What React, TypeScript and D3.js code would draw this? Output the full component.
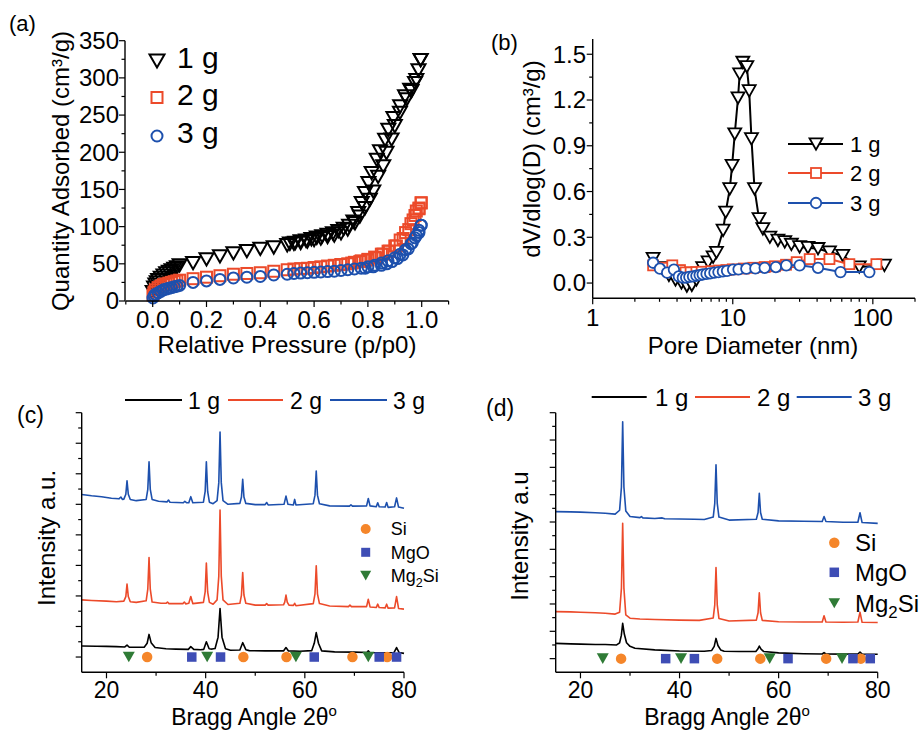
import React from 'react';
import * as d3 from 'd3';

const FONT = 'Arial, "Liberation Sans", Helvetica, sans-serif';
const BLACK = '#000000';
const RED = '#ec4a2a';
const BLUE = '#1d50ad';
const ORANGE = '#f5862a';
const SQ_BLUE = '#3e4db5';
const GREEN = '#2f7b36';

// ---------------- Panel (a): N2 isotherms ----------------
const seriesNames = ['1 g', '2 g', '3 g'];

const bet1gAds: [number, number][] = [
  [0.0, 12], [0.005, 18], [0.01, 22], [0.015, 25], [0.02, 28], [0.03, 31], [0.04, 34], [0.05, 37],
  [0.06, 39], [0.07, 41], [0.08, 43], [0.09, 45], [0.1, 48], [0.15, 51], [0.2, 56], [0.25, 60],
  [0.3, 64], [0.35, 67], [0.4, 70], [0.45, 72], [0.5, 75], [0.525, 77], [0.55, 78], [0.575, 80],
  [0.6, 82], [0.625, 84], [0.65, 86], [0.675, 88], [0.7, 91], [0.725, 96], [0.752, 104.6],
  [0.77, 113.5], [0.789, 124.7], [0.807, 136], [0.82, 147], [0.838, 167], [0.857, 181],
  [0.869, 199], [0.888, 217], [0.9, 235], [0.919, 253], [0.944, 271], [0.962, 282], [0.98, 297],
  [0.996, 324],
];
const bet1gDes: [number, number][] = [
  [0.996, 324], [0.988, 310], [0.975, 293], [0.957, 284], [0.938, 275], [0.92, 261.5],
  [0.895, 245.8], [0.876, 230], [0.864, 216.7], [0.845, 201], [0.833, 189.8], [0.814, 171.9],
  [0.802, 158.4], [0.789, 145], [0.777, 131.7], [0.764, 118], [0.746, 106.8], [0.73, 101],
  [0.71, 97], [0.69, 94], [0.67, 91], [0.65, 89], [0.63, 87], [0.61, 85], [0.59, 83], [0.57, 81],
  [0.55, 80], [0.53, 78], [0.51, 77],
];
const bet2gAds: [number, number][] = [
  [0.001, 8], [0.005, 12], [0.01, 15], [0.02, 18], [0.03, 20], [0.04, 22], [0.05, 23], [0.06, 24],
  [0.07, 25], [0.08, 26], [0.09, 27], [0.1, 28], [0.15, 30], [0.2, 32], [0.25, 34], [0.3, 36],
  [0.35, 37], [0.4, 38], [0.45, 40], [0.5, 42], [0.525, 43], [0.55, 43.5], [0.575, 44], [0.6, 45],
  [0.625, 46], [0.65, 47], [0.675, 48], [0.7, 49], [0.725, 50], [0.75, 52], [0.775, 54], [0.8, 56],
  [0.825, 59], [0.85, 63], [0.875, 67], [0.9, 74], [0.92, 82], [0.94, 92], [0.96, 104],
  [0.975, 115], [0.99, 124], [0.998, 132],
];
const bet2gDes: [number, number][] = [
  [0.998, 132], [0.99, 125], [0.98, 121], [0.968, 109], [0.952, 96], [0.931, 84], [0.906, 74],
  [0.88, 67], [0.856, 63], [0.832, 58], [0.8, 55], [0.77, 53], [0.74, 51], [0.7, 49],
];
const bet3gAds: [number, number][] = [
  [0.001, 4], [0.005, 7], [0.01, 9], [0.02, 11], [0.03, 13], [0.04, 15], [0.05, 16], [0.06, 17],
  [0.07, 18], [0.08, 19], [0.09, 20], [0.1, 21], [0.15, 25], [0.2, 27], [0.25, 29], [0.3, 31],
  [0.35, 32], [0.4, 33], [0.45, 35], [0.5, 36], [0.525, 37], [0.55, 37.5], [0.575, 38], [0.6, 38.5],
  [0.625, 39], [0.65, 39.5], [0.675, 40], [0.7, 41], [0.725, 42], [0.75, 43], [0.775, 44], [0.8, 46],
  [0.825, 48], [0.85, 51], [0.875, 54], [0.9, 58], [0.92, 63], [0.94, 69], [0.96, 77],
  [0.975, 85], [0.99, 92], [0.998, 102],
];
const bet3gDes: [number, number][] = [
  [0.998, 102], [0.99, 95], [0.98, 88], [0.965, 78], [0.95, 70], [0.93, 62], [0.91, 57],
  [0.89, 53], [0.87, 50], [0.85, 48], [0.82, 46], [0.79, 44],
];
const aYTicks = [0, 50, 100, 150, 200, 250, 300, 350];
const aYMinor = [25, 75, 125, 175, 225, 275, 325];
const aXTicks = [0, 0.2, 0.4, 0.6, 0.8, 1.0];
const aXLabels = ['0.0', '0.2', '0.4', '0.6', '0.8', '1.0'];
const aXMinor = [-0.1, 0.1, 0.3, 0.5, 0.7, 0.9, 1.1];

// ---------------- Panel (b): pore size distribution ----------------
const psd1g: [number, number][] = [
  [2.7, 0.16], [3.1, 0.1], [3.5, 0.05], [3.9, 0.02], [4.3, 0.0], [4.7, -0.02], [5.1, -0.015],
  [5.5, 0.02], [6.1, 0.1], [6.67, 0.137], [7.24, 0.17], [7.65, 0.2], [8.53, 0.345], [8.9, 0.464],
  [9.52, 0.617], [9.89, 0.77], [10.33, 0.977], [10.9, 1.213], [11.2, 1.37], [11.8, 1.446],
  [12.6, 1.418], [13.1, 1.26], [13.6, 0.945], [14.3, 0.617], [15.4, 0.421], [16.4, 0.355],
  [18.4, 0.3], [21, 0.28], [23.5, 0.27], [26.2, 0.253], [30, 0.237], [34.4, 0.232], [40.6, 0.225],
  [49, 0.203], [61, 0.18], [80, 0.105], [121, 0.116],
];
const psd2g: [number, number][] = [
  [2.7, 0.116], [3.2, 0.1], [3.7, 0.116], [4.2, 0.085], [4.6, 0.07], [5.0, 0.07], [5.5, 0.072],
  [6, 0.074], [7, 0.078], [8, 0.082], [9, 0.085], [10, 0.09], [12, 0.095], [14, 0.1], [16.9, 0.105],
  [20, 0.11], [24, 0.12], [28.6, 0.137], [35.4, 0.157], [49, 0.157], [68, 0.124], [106, 0.124],
];
const psd3g: [number, number][] = [
  [2.7, 0.133], [3.02, 0.094], [3.4, 0.068], [3.8, 0.088], [4.12, 0.044], [4.4, 0.035],
  [4.65, 0.036], [4.9, 0.04], [5.2, 0.044], [5.5, 0.048], [5.8, 0.052], [6.1, 0.056], [6.5, 0.06],
  [6.9, 0.064], [7.4, 0.068], [7.9, 0.072], [8.5, 0.076], [9.1, 0.08], [10.05, 0.088], [11, 0.09],
  [12.5, 0.094], [14.5, 0.096], [16.9, 0.1], [20.3, 0.105], [24.1, 0.116], [30, 0.116],
  [40.6, 0.1], [58.8, 0.072], [94.4, 0.072],
];
const bYTicks = [0, 0.3, 0.6, 0.9, 1.2, 1.5];
const bYLabels = ['0.0', '0.3', '0.6', '0.9', '1.2', '1.5'];
const bYMinor = [0.15, 0.45, 0.75, 1.05, 1.35];
const bXTicks = [1, 10, 100];
const bXLabels = ['1', '10', '100'];
const bXMinor = [2, 3, 4, 5, 6, 7, 8, 9, 20, 30, 40, 50, 60, 70, 80, 90, 200];

// ---------------- Panel (c): XRD ----------------
const xrdC1g: [number, number][] = [
  [15, 0.86], [18, 0.855], [20, 0.85], [22, 0.84], [23.7, 0.83], [24.14, 0.89], [24.6, 0.82],
  [26, 0.82], [27.6, 0.82], [28.2, 0.95], [28.58, 1.24], [29.0, 0.97], [29.8, 0.81], [32, 0.77],
  [34, 0.76], [36.5, 0.75], [37.0, 0.84], [37.6, 0.75], [39.0, 0.74], [39.6, 0.75], [40.14, 1.0],
  [40.7, 0.77], [41.3, 0.76], [41.9, 0.78], [42.5, 1.15], [42.9, 2.09], [43.3, 1.15], [44.0, 0.77],
  [45, 0.72], [46.9, 0.73], [47.47, 0.97], [48.1, 0.74], [48.8, 0.71], [52, 0.7], [55.7, 0.7],
  [56.2, 0.81], [56.7, 0.7], [59, 0.69], [61.4, 0.71], [61.9, 0.95], [62.3, 1.3], [62.75, 0.95],
  [63.4, 0.7], [66, 0.67], [70, 0.66], [72.5, 0.65], [72.8, 0.7], [73.1, 0.65], [75, 0.64],
  [78.0, 0.65], [78.5, 0.81], [79.0, 0.65], [80, 0.62],
];
const xrdC2g: [number, number][] = [
  [15, 2.37], [17, 2.35], [20, 2.33], [22, 2.31], [23.5, 2.33], [23.9, 2.48], [24.14, 2.89],
  [24.4, 2.48], [24.8, 2.31], [26, 2.29], [28.0, 2.34], [28.33, 2.72], [28.58, 3.76], [28.83, 2.72],
  [29.2, 2.3], [31, 2.26], [32.0, 2.26], [32.3, 2.3], [32.6, 2.25], [35.4, 2.25], [35.7, 2.3],
  [36.0, 2.24], [36.6, 2.26], [37.0, 2.48], [37.4, 2.25], [39.55, 2.29], [39.9, 2.63],
  [40.14, 3.58], [40.4, 2.63], [40.75, 2.29], [41.5, 2.23], [42.3, 2.37], [42.65, 3.15],
  [42.9, 5.31], [43.15, 3.15], [43.5, 2.37], [44.5, 2.22], [46.9, 2.26], [47.22, 2.53],
  [47.47, 3.27], [47.72, 2.53], [48.1, 2.26], [50, 2.2], [52.0, 2.2], [52.3, 2.25], [52.6, 2.2],
  [55.7, 2.21], [55.95, 2.3], [56.2, 2.53], [56.45, 2.3], [56.8, 2.2], [57.7, 2.19],
  [57.95, 2.26], [58.2, 2.18], [61.7, 2.25], [62.05, 2.57], [62.3, 3.49], [62.55, 2.57],
  [62.95, 2.25], [65, 2.17], [68.8, 2.15], [69.1, 2.2], [69.4, 2.15], [72.45, 2.15], [72.8, 2.39],
  [73.15, 2.14], [74.4, 2.12], [74.7, 2.23], [75.0, 2.12], [76.2, 2.11], [76.5, 2.23], [76.8, 2.1],
  [78.1, 2.11], [78.5, 2.48], [78.9, 2.09], [80, 2.07],
];
const xrdC3g: [number, number][] = [
  [15, 5.82], [17, 5.78], [19, 5.75], [21, 5.7], [22.5, 5.68], [22.9, 5.74], [23.2, 5.66],
  [23.5, 5.67], [23.9, 5.83], [24.14, 6.27], [24.4, 5.83], [24.8, 5.66], [26, 5.62], [28.0, 5.66],
  [28.33, 5.99], [28.58, 6.89], [28.83, 5.99], [29.2, 5.66], [30.5, 5.6], [32.2, 5.58],
  [32.5, 5.64], [32.8, 5.57], [35.5, 5.55], [35.8, 5.6], [36.2, 5.55], [36.6, 5.55], [37.0, 5.75],
  [37.4, 5.55], [39.55, 5.57], [39.9, 5.92], [40.14, 6.89], [40.4, 5.92], [40.75, 5.57],
  [41.5, 5.52], [42.3, 5.62], [42.65, 6.21], [42.9, 7.87], [43.15, 6.21], [43.5, 5.62],
  [44.5, 5.5], [46.9, 5.53], [47.22, 5.74], [47.47, 6.32], [47.72, 5.74], [48.1, 5.53],
  [50, 5.49], [52.0, 5.49], [52.3, 5.56], [52.6, 5.48], [55.8, 5.5], [56.2, 5.77], [56.6, 5.5],
  [57.7, 5.48], [57.95, 5.66], [58.2, 5.48], [61.7, 5.52], [62.05, 5.8], [62.3, 6.59],
  [62.55, 5.8], [62.95, 5.52], [65, 5.45], [69.0, 5.44], [69.3, 5.48], [69.6, 5.44],
  [72.45, 5.45], [72.8, 5.69], [73.15, 5.45], [74.4, 5.42], [74.7, 5.55], [75.0, 5.42],
  [76.2, 5.41], [76.5, 5.56], [76.8, 5.4], [78.1, 5.42], [78.5, 5.71], [78.9, 5.41], [80, 5.37],
];

// ---------------- Panel (d): XRD ----------------
const xrdD1g: [number, number][] = [
  [15, 1.06], [18, 1.04], [20, 1.03], [23, 1.02], [25, 1.02], [27.3, 1.0], [27.9, 1.08],
  [28.25, 1.35], [28.52, 1.79], [28.85, 1.4], [29.3, 1.08], [30.0, 0.95], [31, 0.88], [35, 0.82],
  [40, 0.78], [45, 0.77], [46.5, 0.8], [47.0, 0.95], [47.36, 1.24], [47.75, 0.98], [48.3, 0.82],
  [49, 0.77], [52, 0.76], [55.4, 0.76], [55.8, 0.85], [56.1, 0.96], [56.45, 0.85], [57.0, 0.76],
  [60, 0.71], [65, 0.68], [68.8, 0.67], [69.17, 0.72], [69.55, 0.67], [73, 0.665], [76.0, 0.67],
  [76.43, 0.74], [76.85, 0.67], [80, 0.66],
];
const xrdD2g: [number, number][] = [
  [15, 2.22], [18, 2.21], [20, 2.2], [23, 2.18], [25, 2.16], [27, 2.13], [27.9, 2.2], [28.27, 3.08],
  [28.52, 5.45], [28.77, 3.08], [29.15, 2.1], [30, 1.98], [32, 1.95], [35, 1.93], [40, 1.91],
  [44, 1.9], [46.8, 1.99], [47.11, 2.47], [47.36, 3.83], [47.61, 2.47], [47.95, 1.97], [50, 1.88],
  [55.5, 1.91], [55.85, 2.18], [56.1, 2.91], [56.35, 2.18], [56.7, 1.9], [60, 1.85], [65, 1.84],
  [68.8, 1.84], [69.17, 2.07], [69.55, 1.84], [73, 1.83], [76.0, 1.84], [76.43, 2.2], [76.85, 1.83],
  [80, 1.82],
];
const xrdD3g: [number, number][] = [
  [15, 5.88], [18, 5.87], [20, 5.86], [23, 5.84], [25, 5.82], [27, 5.79], [27.9, 5.93], [28.27, 6.78],
  [28.52, 9.17], [28.77, 6.78], [29.15, 5.9], [30, 5.7], [32.0, 5.66], [32.3, 5.7], [32.6, 5.65],
  [35, 5.63], [36.5, 5.65], [37, 5.62], [40, 5.61], [43, 5.6], [45, 5.59], [46.8, 5.68],
  [47.11, 6.18], [47.36, 7.59], [47.61, 6.18], [47.95, 5.68], [50, 5.57], [55.5, 5.6],
  [55.85, 5.85], [56.1, 6.55], [56.35, 5.85], [56.7, 5.6], [60, 5.54], [65, 5.525], [68.8, 5.52],
  [69.17, 5.7], [69.55, 5.52], [73, 5.49], [76.0, 5.49], [76.43, 5.84], [76.85, 5.48], [80, 5.45],
];

const phaseSi = [28.2, 47.6, 56.3, 69.6, 76.6];
const phaseMgO = [37.2, 43.0, 61.9, 75.0, 78.5];
const phaseMg2Si = [24.5, 40.3, 58.2, 72.8];
const phaseLevel = 0.5;

const xrdXTicks = [20, 40, 60, 80];
const xrdXMinor = [30, 50, 70];
const cYTicks = [0.5, 1.5, 2.5, 3.5, 4.5, 5.5, 6.5, 7.5, 8.5];
const cYMinor = [1, 2, 3, 4, 5, 6, 7, 8];
const dYTicks = [0.5, 1.5, 2.5, 3.5, 4.5, 5.5, 6.5, 7.5, 8.5, 9.5];
const dYMinor = [1, 2, 3, 4, 5, 6, 7, 8, 9];

// ---------------- Scales ----------------
const xA = d3.scaleLinear().domain([-0.1, 1.1]).range([125.8, 448.6]);
const yA = d3.scaleLinear().domain([0, 350]).range([301, 40.7]);
const xB = d3.scaleLog().domain([1, 200]).range([592.7, 915]);
const yB = d3.scaleLinear().domain([-0.1, 1.6]).range([298.3, 39]);
const xC = d3.scaleLinear().domain([15, 80]).range([81.7, 404]);
const yC = d3.scaleLinear().domain([0, 8.5]).range([672.3, 412.7]);
const xD = d3.scaleLinear().domain([15, 80]).range([555.7, 877.7]);
const yD = d3.scaleLinear().domain([0, 9.5]).range([672.3, 412.7]);

type Shape = 'tri' | 'sq' | 'circ';

function Marker({ shape, x, y, s, color, fill, sw }: { shape: Shape; x: number; y: number; s: number; color: string; fill: string; sw: number }) {
  if (shape === 'tri') {
    const h = s * 0.88;
    return <path d={`M${x - s / 2},${y - h / 2}L${x + s / 2},${y - h / 2}L${x},${y + h / 2}Z`} fill={fill} stroke={color} strokeWidth={sw} strokeLinejoin="miter" />;
  }
  if (shape === 'sq') return <rect x={x - s / 2} y={y - s / 2} width={s} height={s} fill={fill} stroke={color} strokeWidth={sw} />;
  return <circle cx={x} cy={y} r={s / 2} fill={fill} stroke={color} strokeWidth={sw} />;
}

function BottomAxis({ scale, y, major, minor, labels, fontSize, labelY }: any) {
  const [x0, x1] = scale.range();
  return (
    <g>
      <line x1={x0} x2={x1} y1={y} y2={y} stroke="#000" strokeWidth={1.4} />
      {major.map((v: number, i: number) => <line key={'M' + i} x1={scale(v)} x2={scale(v)} y1={y} y2={y + 6} stroke="#000" strokeWidth={1.2} />)}
      {minor.map((v: number, i: number) => <line key={'m' + i} x1={scale(v)} x2={scale(v)} y1={y} y2={y + 3.5} stroke="#000" strokeWidth={1.2} />)}
      {labels && labels.map((t: string, i: number) => (
        <text key={'t' + i} x={scale(major[i])} y={labelY} textAnchor="middle" fontSize={fontSize} fontFamily={FONT}>{t}</text>
      ))}
    </g>
  );
}

function LeftAxis({ scale, x, major, minor, labels, fontSize, labelX }: any) {
  const [y0, y1] = scale.range();
  return (
    <g>
      <line x1={x} x2={x} y1={y0} y2={y1} stroke="#000" strokeWidth={1.4} />
      {major.map((v: number, i: number) => <line key={'M' + i} x1={x - 6} x2={x} y1={scale(v)} y2={scale(v)} stroke="#000" strokeWidth={1.2} />)}
      {minor.map((v: number, i: number) => <line key={'m' + i} x1={x - 3.5} x2={x} y1={scale(v)} y2={scale(v)} stroke="#000" strokeWidth={1.2} />)}
      {labels && labels.map((t: string, i: number) => (
        <text key={'t' + i} x={labelX} y={scale(major[i]) + fontSize * 0.35} textAnchor="end" fontSize={fontSize} fontFamily={FONT}>{t}</text>
      ))}
    </g>
  );
}

function RotLabel({ x, y, text, size }: { x: number; y: number; text: string; size: number }) {
  return <text transform={`translate(${x},${y}) rotate(-90)`} textAnchor="middle" fontSize={size} fontFamily={FONT}>{text}</text>;
}

function PanelA() {
  const series: { data: [number, number][]; shape: Shape; color: string; s: number }[] = [
    { data: bet1gAds, shape: 'tri', color: BLACK, s: 14 },
    { data: bet1gDes, shape: 'tri', color: BLACK, s: 14 },
    { data: bet2gAds, shape: 'sq', color: RED, s: 11 },
    { data: bet2gDes, shape: 'sq', color: RED, s: 11 },
    { data: bet3gAds, shape: 'circ', color: BLUE, s: 11 },
    { data: bet3gDes, shape: 'circ', color: BLUE, s: 11 },
  ];
  const legend: { shape: Shape; color: string; s: number; y: number }[] = [
    { shape: 'tri', color: BLACK, s: 15, y: 61 },
    { shape: 'sq', color: RED, s: 11, y: 97.5 },
    { shape: 'circ', color: BLUE, s: 11, y: 136 },
  ];
  const textY = [68, 105, 143];
  return (
    <g>
      <text x={9} y={31} fontSize={22} fontFamily={FONT}>(a)</text>
      {series.map((sr, i) => (
        <g key={i}>
          {sr.data.map((d, j) => <Marker key={j} shape={sr.shape} x={xA(d[0])} y={yA(d[1])} s={sr.s} color={sr.color} fill="none" sw={2} />)}
        </g>
      ))}
      <LeftAxis scale={yA} x={125} major={aYTicks} minor={aYMinor} labels={aYTicks.map(String)} fontSize={24} labelX={119} />
      <BottomAxis scale={xA} y={301} major={aXTicks} minor={aXMinor} labels={aXLabels} fontSize={24} labelY={328} />
      <RotLabel x={69} y={171} text="Quantity Adsorbed (cm³/g)" size={24} />
      <text x={287} y={353} textAnchor="middle" fontSize={24} fontFamily={FONT}>Relative Pressure (p/p0)</text>
      {legend.map((l, i) => (
        <g key={i}>
          <Marker shape={l.shape} x={157} y={l.y} s={l.s} color={l.color} fill="none" sw={2} />
          <text x={177} y={textY[i]} fontSize={30} fontFamily={FONT}>{seriesNames[i]}</text>
        </g>
      ))}
    </g>
  );
}

function PanelB() {
  const line = d3.line<[number, number]>().x(d => xB(d[0])).y(d => yB(d[1]));
  const series: { data: [number, number][]; shape: Shape; color: string; s: number }[] = [
    { data: psd1g, shape: 'tri', color: BLACK, s: 13 },
    { data: psd2g, shape: 'sq', color: RED, s: 10 },
    { data: psd3g, shape: 'circ', color: BLUE, s: 10.5 },
  ];
  const ly = [144, 173, 203];
  return (
    <g>
      <text x={491} y={50} fontSize={22} fontFamily={FONT}>(b)</text>
      {series.map((sr, i) => (
        <g key={i}>
          <path d={line(sr.data) || ''} fill="none" stroke={sr.color} strokeWidth={2} />
          {sr.data.map((d, j) => <Marker key={j} shape={sr.shape} x={xB(d[0])} y={yB(d[1])} s={sr.s} color={sr.color} fill="#fff" sw={1.8} />)}
        </g>
      ))}
      <LeftAxis scale={yB} x={592.7} major={bYTicks} minor={bYMinor} labels={bYLabels} fontSize={24} labelX={586} />
      <BottomAxis scale={xB} y={298.3} major={bXTicks} minor={bXMinor} labels={bXLabels} fontSize={24} labelY={326} />
      <RotLabel x={540} y={159} text="dV/dlog(D) (cm³/g)" size={24} />
      <text x={753} y={354} textAnchor="middle" fontSize={24} fontFamily={FONT}>Pore Diameter (nm)</text>
      {series.map((sr, i) => (
        <g key={'l' + i}>
          <line x1={788} x2={843} y1={ly[i]} y2={ly[i]} stroke={sr.color} strokeWidth={2} />
          <Marker shape={sr.shape} x={816} y={ly[i]} s={sr.s} color={sr.color} fill="#fff" sw={1.8} />
          <text x={850} y={ly[i] + 8} fontSize={22} fontFamily={FONT}>{seriesNames[i]}</text>
        </g>
      ))}
    </g>
  );
}

function Mg2SiText({ x, y, size }: { x: number; y: number; size: number }) {
  return (
    <text x={x} y={y} fontSize={size} fontFamily={FONT}>
      Mg<tspan dy={size * 0.25} fontSize={size * 0.7}>2</tspan><tspan dy={-size * 0.25}>Si</tspan>
    </text>
  );
}

function XrdPanel({ xs, ys, data, yTicks, yMinor, axisX, letter, letterX, letterY, ylabel, ylabelX, ylabelY,
  xlabelX, legendLines, legendTextX, legendY, legendFont, symX, symY, symFont, symTextX, symSize, tickFont }: any) {
  const line = d3.line<[number, number]>().x(d => xs(d[0])).y(d => ys(d[1]));
  const colors = [BLACK, RED, BLUE];
  const py = ys(phaseLevel);
  return (
    <g>
      <text x={letterX} y={letterY} fontSize={23} fontFamily={FONT}>{letter}</text>
      {data.map((dd: [number, number][], i: number) => (
        <path key={i} d={line(dd) || ''} fill="none" stroke={colors[i]} strokeWidth={1.6} strokeLinejoin="round" />
      ))}
      {phaseMg2Si.map((a, i) => <Marker key={'g' + i} shape="tri" x={xs(a)} y={py} s={12} color={GREEN} fill={GREEN} sw={0} />)}
      {phaseSi.map((a, i) => <Marker key={'o' + i} shape="circ" x={xs(a)} y={py} s={10.5} color={ORANGE} fill={ORANGE} sw={0} />)}
      {phaseMgO.map((a, i) => <Marker key={'b' + i} shape="sq" x={xs(a)} y={py} s={9.5} color={SQ_BLUE} fill={SQ_BLUE} sw={0} />)}
      <LeftAxis scale={ys} x={axisX} major={yTicks} minor={yMinor} />
      <BottomAxis scale={xs} y={672.3} major={xrdXTicks} minor={xrdXMinor} labels={xrdXTicks.map(String)} fontSize={tickFont} labelY={697.5} />
      <RotLabel x={ylabelX} y={ylabelY} text={ylabel} size={24} />
      <text x={xlabelX} y={725} textAnchor="middle" fontSize={23} fontFamily={FONT}>
        Bragg Angle 2θ<tspan dy={-9} fontSize={15}>o</tspan>
      </text>
      {legendLines.map((lx: [number, number], i: number) => (
        <g key={'l' + i}>
          <line x1={lx[0]} x2={lx[1]} y1={legendY} y2={legendY} stroke={colors[i]} strokeWidth={2} />
          <text x={legendTextX[i]} y={legendY + 9} fontSize={legendFont} fontFamily={FONT}>{seriesNames[i]}</text>
        </g>
      ))}
      <Marker shape="circ" x={symX} y={symY[0]} s={symSize} color={ORANGE} fill={ORANGE} sw={0} />
      <Marker shape="sq" x={symX} y={symY[1]} s={symSize - 1} color={SQ_BLUE} fill={SQ_BLUE} sw={0} />
      <Marker shape="tri" x={symX} y={symY[2]} s={symSize + 1} color={GREEN} fill={GREEN} sw={0} />
      <text x={symTextX} y={symY[0] + symFont * 0.36} fontSize={symFont} fontFamily={FONT}>Si</text>
      <text x={symTextX} y={symY[1] + symFont * 0.36} fontSize={symFont} fontFamily={FONT}>MgO</text>
      <Mg2SiText x={symTextX} y={symY[2] + symFont * 0.36} size={symFont} />
    </g>
  );
}

export default function App() {
  return (
    <svg width={921} height={730} viewBox="0 0 921 730" style={{ position: 'absolute', left: 0, top: 0, background: '#fff' }}>
      <rect x={0} y={0} width={921} height={730} fill="#fff" />
      <PanelA />
      <PanelB />
      <XrdPanel xs={xC} ys={yC} data={[xrdC1g, xrdC2g, xrdC3g]} yTicks={cYTicks} yMinor={cYMinor} axisX={81.7}
        letter="(c)" letterX={17} letterY={423} ylabel="Intensity a.u." ylabelX={55} ylabelY={538} xlabelX={254}
        legendLines={[[125, 182], [228, 283], [330, 387]]} legendTextX={[188, 290, 393]} legendY={400} legendFont={23}
        symX={365.7} symY={[529, 552.3, 575.7]} symFont={18} symTextX={390.7} symSize={10} tickFont={23} />
      <XrdPanel xs={xD} ys={yD} data={[xrdD1g, xrdD2g, xrdD3g]} yTicks={dYTicks} yMinor={dYMinor} axisX={555.7}
        letter="(d)" letterX={486} letterY={416} ylabel="Intensity a.u" ylabelX={528} ylabelY={536} xlabelX={727}
        legendLines={[[591.7, 646.7], [695, 750], [796.7, 851.7]]} legendTextX={[655, 757, 858]} legendY={397} legendFont={24}
        symX={834.3} symY={[542.7, 572.3, 603.3]} symFont={24} symTextX={855} symSize={10.5} tickFont={23} />
    </svg>
  );
}
